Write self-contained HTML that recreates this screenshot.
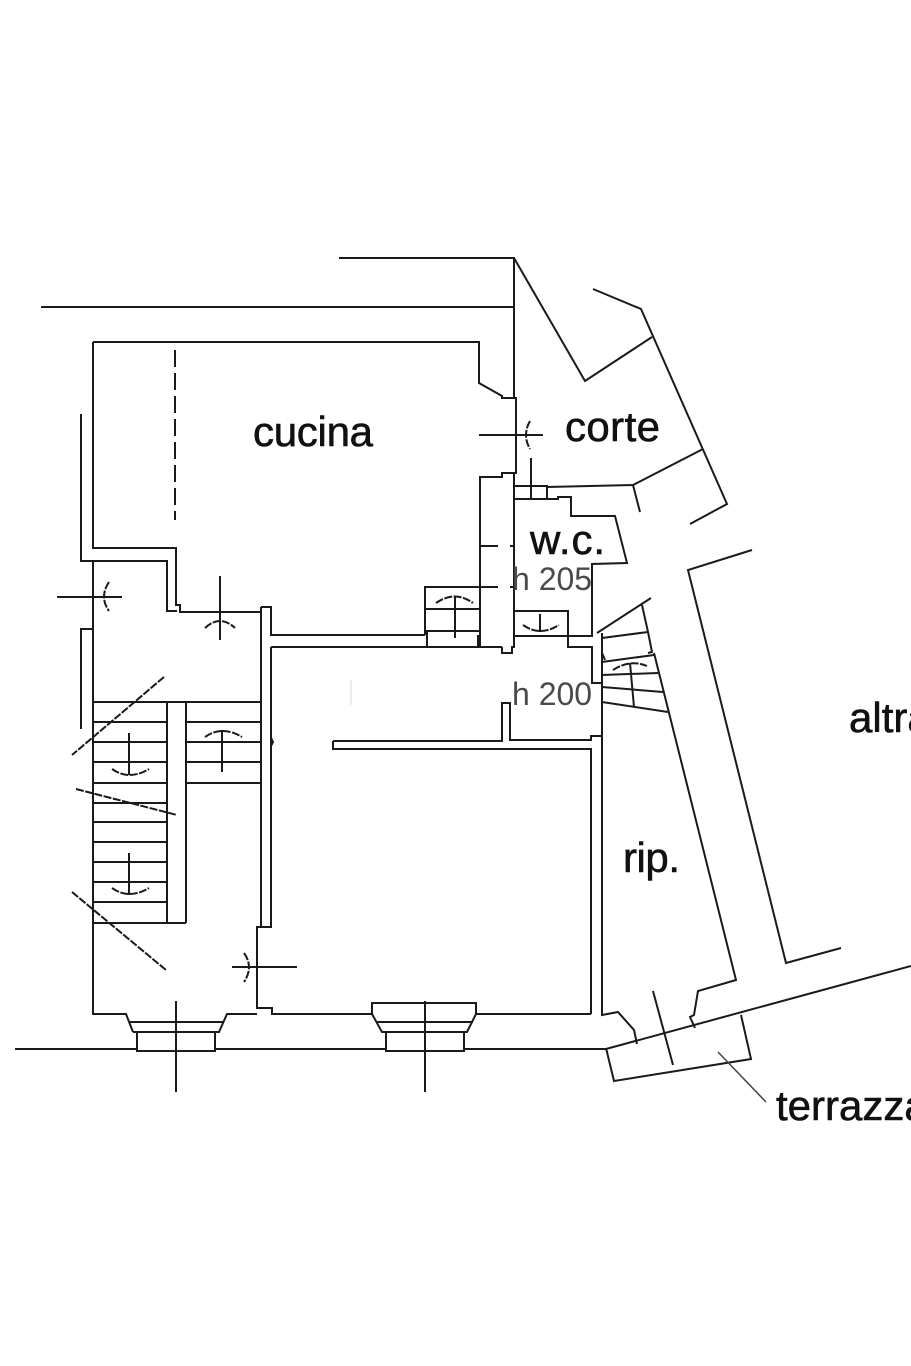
<!DOCTYPE html>
<html><head><meta charset="utf-8"><style>
html,body{margin:0;padding:0;background:#fff}
svg{display:block}
.l{fill:none;stroke:#1a1a1a;stroke-width:2;stroke-linejoin:miter}
.t{font-family:"Liberation Sans",sans-serif;font-size:42px;fill:#111;stroke:#111;stroke-width:.6}
.h{font-family:"Liberation Sans",sans-serif;font-size:32px;fill:#4a4a4a}
</style></head><body>
<svg width="911" height="1366" viewBox="0 0 911 1366" xmlns="http://www.w3.org/2000/svg">
<rect width="911" height="1366" fill="#fff"/>
<g class="l">
<!-- top boundary and courtyard -->
<path d="M339 258H514V398M41 307H514"/>
<path d="M514 258L585 381L652 337"/>
<path d="M593 289L641 309L727 504L690 524"/>
<path d="M547 487L633 485L703 449M633 485L640 512"/>
<!-- cucina -->
<path d="M81 414V561H93V629H81V729"/>
<path d="M93 561H167V611H177"/>
<path d="M93 342H479V383L502 396V398H516V473H502V477H480V647"/>
<path d="M93 342V548H176V605H180V612H261"/>
<path d="M175 350V520" stroke-dasharray="17 6"/>
<path d="M514 473V647H512V653H502V647"/>
<!-- central wall -->
<path d="M261 607H271V635H425M271 647H502"/>
<path d="M261 607V927H257V1008H272V1014H372"/>
<path d="M271 647V927H261"/>
<path d="M271 738l2 4l-2 4"/>
<!-- small stair box -->
<path d="M425 635V587H480M425 609H480M425 631H480M427 631V647M478 635V647"/>
<path d="M480 546H498M510 546H514M480 587H498M510 587H515"/>
<!-- wc -->
<path d="M515 486H547V499M515 499H558V497H571V516H615L627 563L592 564V636H515M515 611H568V647H592V683H602"/>
<!-- inner rooms -->
<path d="M333 741H502V703H510V740H591V736H602M333 741V749H591V1014"/>
<path d="M602 633V1015L618 1012L634 1030L637 1044"/>
<!-- left stair -->
<path d="M93 561V1014H126L133 1032"/>
<path d="M93 702H261M93 722H167M93 742H167M93 762H167M93 783H167M93 803H167M93 822H167M93 842H167M93 862H167M93 882H167M93 902H167M93 923H186"/>
<path d="M186 722H261M186 742H261M186 762H261M186 783H261"/>
<path d="M167 702V923M186 702V923"/>
<!-- bottom doors -->
<path d="M130 1022H223M133 1032H219L227 1014H257M137 1032V1051H215V1032"/>
<path d="M372 1014V1003H476V1014H591M372 1014L382 1032H467L476 1014M376 1022H473M386 1032V1051H464V1032"/>
<path d="M15 1049H137M215 1049H386M464 1049H606L911 966"/>
<!-- terrace -->
<path d="M606 1048L614 1081L751 1059L741 1015"/>
<path d="M653 991L673 1065"/>
<!-- right corridor -->
<path d="M654 653L736 980L698 991L694 1015L690 1017L695 1028"/>
<path d="M752 550L688 570L786 963L841 948"/>
<!-- right stair -->
<path d="M651 598L597 633M642 605L648 632L652 652L648 653"/>
<path d="M602 638L648 632M602 653L605 660M602 662L654 655M602 675L658 673M602 687L663 692M602 702L668 712M630 663L634 707"/>
<!-- door symbols -->
<path d="M479 435H543M531 458V498"/>
<path d="M57 597H122M220 576V640M232 967H297M176 1001V1092M425 1001V1092"/>
<path d="M129 733V775M129 853V895M222 730V772M455 597V638M540 614V632"/>
</g>
<g class="l" stroke-dasharray="8 1.5">
<path d="M530 421Q522 435 530 449"/>
<path d="M109 582Q99 597 109 611"/>
<path d="M205 628Q220 614 235 628"/>
<path d="M112 769Q129 781 149 769"/>
<path d="M112 888Q129 900 149 888"/>
<path d="M205 737Q222 725 242 737"/>
<path d="M244 953Q254 967 244 982"/>
<path d="M436 603Q455 590 473 603"/>
<path d="M523 625Q540 637 559 625"/>
<path d="M613 670Q630 659 647 666"/>
<path d="M164 677L72 755"/>
<path d="M76 789L177 815"/>
<path d="M72 892L166 970"/>
</g>
<path d="M718 1052L766 1102" fill="none" stroke="#444" stroke-width="1.5"/>
<path d="M351 680V705" fill="none" stroke="#e6e6e6" stroke-width="1.5"/>
<text class="t" x="253" y="446" textLength="120">cucina</text>
<text class="t" x="565" y="441" textLength="95">corte</text>
<text class="t" x="530" y="554" textLength="75">w.c.</text>
<text class="t" x="623" y="872" textLength="57">rip.</text>
<text class="t" x="849" y="732">altra</text>
<text class="t" x="776" y="1120">terrazza</text>
<text class="h" x="512" y="590">h 205</text>
<text class="h" x="512" y="705">h 200</text>
</svg>
</body></html>
